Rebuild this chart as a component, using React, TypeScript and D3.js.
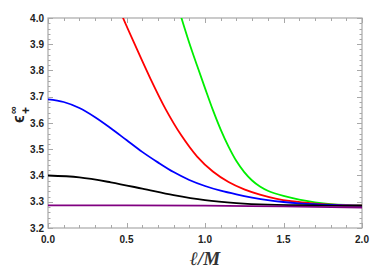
import React, { useEffect, useRef } from 'react';
import * as d3 from 'd3';

// curves: x = l/M, y = eps_+^inf
const blackX = [0, 0.2, 0.4, 0.6, 0.8, 1.0, 1.2, 1.4, 1.6, 1.8, 2.0];
const blackY = [3.4, 3.393, 3.374, 3.35, 3.325, 3.306, 3.295, 3.289, 3.287, 3.285, 3.284];

const blueX = [0, 0.1, 0.2, 0.3, 0.4, 0.5, 0.6, 0.7, 0.8, 0.9, 1.0, 1.1, 1.2, 1.3, 1.4, 1.5, 1.6, 1.8, 2.0];
const blueY = [3.69, 3.68, 3.657, 3.622, 3.58, 3.535, 3.49, 3.45, 3.413, 3.383, 3.36, 3.342, 3.328, 3.316, 3.306, 3.299, 3.294, 3.288, 3.285];

const redX = [0.44, 0.478, 0.55, 0.65, 0.75, 0.85, 0.95, 1.05, 1.15, 1.25, 1.35, 1.45, 1.55, 1.7, 1.85, 2.0];
const redY = [4.055, 4.0, 3.903, 3.772, 3.652, 3.552, 3.472, 3.415, 3.375, 3.347, 3.327, 3.312, 3.302, 3.293, 3.288, 3.286];

const greenX = [0.82, 0.85, 0.9, 0.95, 1.0, 1.05, 1.1, 1.15, 1.2, 1.25, 1.3, 1.35, 1.4, 1.5, 1.6, 1.7, 1.8, 1.9, 2.0];
const greenY = [4.06, 4.0, 3.905, 3.818, 3.733, 3.65, 3.575, 3.51, 3.455, 3.413, 3.381, 3.358, 3.342, 3.322, 3.308, 3.298, 3.291, 3.288, 3.287];

const purpleX = [0, 0.5, 1.0, 1.5, 2.0];
const purpleY = [3.286, 3.286, 3.285, 3.282, 3.278];

const xTicks = [0, 0.5, 1.0, 1.5, 2.0];
const yTicks = [3.2, 3.3, 3.4, 3.5, 3.6, 3.7, 3.8, 3.9, 4.0];

const W = 382;
const H = 271;

const App: React.FC = () => {
  const ref = useRef<SVGSVGElement | null>(null);
  const margin = { top: 18, right: 20, bottom: 43, left: 48 };

  useEffect(() => {
    if (!ref.current) return;
    const svg = d3.select(ref.current);
    svg.selectAll('*').remove();

    const x = d3.scaleLinear().domain([0, 2]).range([margin.left, W - margin.right]);
    const y = d3.scaleLinear().domain([3.2, 4.0]).range([H - margin.bottom, margin.top]);
    const frame = '#a8a8a8';

    svg.append('clipPath').attr('id', 'plotclip')
      .append('rect')
      .attr('x', x(0)).attr('y', y(4))
      .attr('width', x(2) - x(0)).attr('height', y(3.2) - y(4));

    // ticks (inward, all four sides)
    const tk = svg.append('g').attr('stroke', frame).attr('stroke-width', 1);
    d3.range(0, 2.0001, 0.1).forEach((v, i) => {
      const len = i % 5 === 0 ? 5 : 3;
      const px = Math.round(x(v)) + 0.5;
      tk.append('line').attr('x1', px).attr('x2', px).attr('y1', y(3.2)).attr('y2', y(3.2) - len);
      tk.append('line').attr('x1', px).attr('x2', px).attr('y1', y(4)).attr('y2', y(4) + len);
    });
    d3.range(3.2, 4.0001, 0.02).forEach((v, i) => {
      const len = i % 5 === 0 ? 5 : 2.5;
      const py = Math.round(y(v)) + 0.5;
      tk.append('line').attr('y1', py).attr('y2', py).attr('x1', x(0)).attr('x2', x(0) + len);
      tk.append('line').attr('y1', py).attr('y2', py).attr('x1', x(2)).attr('x2', x(2) - len);
    });

    svg.append('rect')
      .attr('x', x(0)).attr('y', y(4))
      .attr('width', x(2) - x(0)).attr('height', y(3.2) - y(4))
      .attr('fill', 'none').attr('stroke', frame).attr('stroke-width', 1.2);

    const line = d3.line<[number, number]>()
      .x(d => x(d[0])).y(d => y(d[1]))
      .curve(d3.curveCatmullRom.alpha(0.5));

    const series: [number[], number[], string][] = [
      [greenX, greenY, '#00ee00'],
      [redX, redY, '#ff0000'],
      [blueX, blueY, '#0000ff'],
      [blackX, blackY, '#000000'],
      [purpleX, purpleY, '#800080'],
    ];
    const g = svg.append('g').attr('clip-path', 'url(#plotclip)');
    series.forEach(([xs, ys, c]) => {
      g.append('path')
        .datum(xs.map((v, i) => [v, ys[i]] as [number, number]))
        .attr('d', line)
        .attr('fill', 'none')
        .attr('stroke', c)
        .attr('stroke-width', 1.8);
    });

    const lab = svg.append('g')
      .attr('font-family', 'Liberation Sans, Arial, sans-serif')
      .attr('font-weight', 'bold')
      .attr('font-size', 10)
      .attr('fill', '#222');
    xTicks.forEach(v => {
      lab.append('text').attr('x', x(v)).attr('y', y(3.2) + 15)
        .attr('text-anchor', 'middle').text(v.toFixed(1));
    });
    yTicks.forEach(v => {
      lab.append('text').attr('x', x(0) - 4).attr('y', y(v) + 3.5)
        .attr('text-anchor', 'end').text(v.toFixed(1));
    });

    // axis titles
    svg.append('text')
      .attr('x', (x(0) + x(2)) / 2).attr('y', H - 6)
      .attr('text-anchor', 'middle')
      .attr('font-family', 'Liberation Serif, Times New Roman, serif')
      .attr('font-style', 'italic').attr('font-weight', 'bold')
      .attr('font-size', 19).attr('fill', '#333')
      .text('ℓ/M');

    const yl = svg.append('g')
      .attr('transform', 'translate(24,123) rotate(-90)')
      .attr('font-family', 'Liberation Sans, Arial, sans-serif')
      .attr('font-weight', 'bold').attr('fill', '#222');
    yl.append('text').attr('x', 0).attr('y', 0).attr('font-size', 16).text('ϵ');
    yl.append('text').attr('x', 9).attr('y', 6).attr('font-size', 12).text('+');
    yl.append('text').attr('x', 9).attr('y', -7).attr('font-size', 11).text('∞');
  }, []);

  return (
    <svg ref={ref} width={W} height={H}
      style={{ position: 'absolute', left: 0, top: 0, background: '#fff' }} />
  );
};

export default App;
